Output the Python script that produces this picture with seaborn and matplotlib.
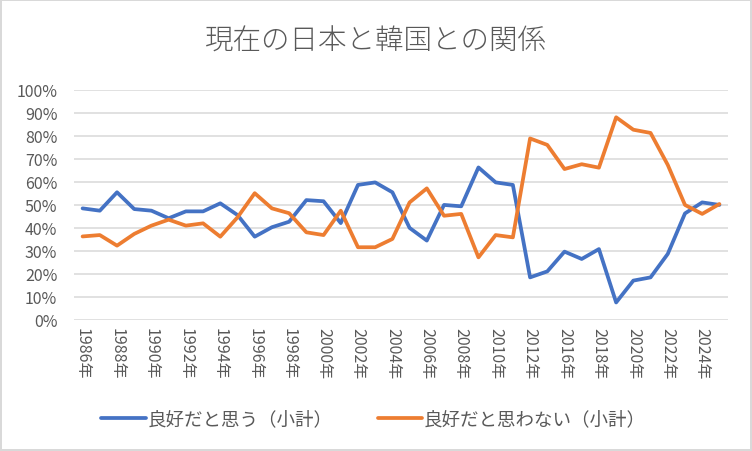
import numpy as np
import pandas as pd
import seaborn as sns
import matplotlib.pyplot as plt
from matplotlib.ticker import PercentFormatter

years = [str(y) + '年' for y in range(1986, 2013)] + ['2014年'] + [str(y) + '年' for y in range(2016, 2026)]

good = [48.4, 47.4, 55.4, 48.1, 47.4, 44.1, 47.1, 47.1, 50.6, 45.5, 36.1, 40.2, 42.6,
        52.0, 51.5, 42.0, 58.6, 59.7, 55.4, 39.9, 34.4, 49.9, 49.3, 66.2, 59.7, 58.6,
        18.4, 21.0, 29.6, 26.4, 30.7, 7.5, 17.0, 18.4, 28.6, 46.2, 51.0, 49.9]
not_good = [36.2, 36.8, 32.2, 37.3, 40.9, 43.5, 40.9, 41.9, 36.1, 44.5, 55.0, 48.4, 46.3,
            38.0, 36.8, 47.4, 31.5, 31.5, 35.1, 51.0, 57.1, 45.2, 46.0, 27.1, 36.8, 35.8,
            78.8, 76.0, 65.5, 67.6, 66.1, 88.0, 82.6, 81.2, 67.3, 49.9, 46.0, 50.3]

label_good = '良好だと思う（小計）'
label_bad = '良好だと思わない（小計）'

sns.set_theme(style='white')
plt.rcParams['font.family'] = ['Noto Sans CJK JP', 'DejaVu Sans']

df = pd.DataFrame({'pos': np.arange(len(years)), label_good: good, label_bad: not_good})
long = df.melt(id_vars='pos', var_name='series', value_name='value')

fig = plt.figure(figsize=(7.52, 4.52), dpi=100, edgecolor='#d9d9d9', linewidth=1.5)
ax = fig.add_axes([74 / 752, 1 - 320.7 / 452, 654 / 752, 230 / 452])

sns.lineplot(data=long, x='pos', y='value', hue='series',
             palette=['#4472C4', '#ED7D31'], linewidth=2.7, ax=ax)

ax.set_xlim(-0.5, len(years) - 0.5)
ax.set_ylim(0, 100)
ax.set_yticks(np.arange(0, 101, 10))
ax.yaxis.set_major_formatter(PercentFormatter(decimals=0))
ax.set_xticks(np.arange(0, len(years), 2))
ax.set_xticklabels(years[::2], rotation=-90, color='#595959', fontsize=11.5)
ax.tick_params(axis='y', colors='#595959', labelsize=11.5, length=0, pad=12)
ax.tick_params(axis='x', length=0, pad=5)
ax.grid(axis='y', color='#d9d9d9', linewidth=1.1)
for s in ax.spines.values():
    s.set_visible(False)
ax.set_xlabel('')
ax.set_ylabel('')

fig.suptitle('現在の日本と韓国との関係', y=1 - 41 / 452, va='center',
             color='#595959', fontsize=20.5, fontweight='light')

handles, labels = ax.get_legend_handles_labels()
ax.legend(handles, labels, loc='center',
          bbox_to_anchor=((373.5 - 74) / 654, (320.7 - 420) / 230),
          bbox_transform=ax.transAxes, ncol=2, frameon=False,
          fontsize=13.3, labelcolor='#595959', handlelength=2.4,
          handletextpad=0.1, columnspacing=2.45)

fig.savefig('out.png', dpi=100)
